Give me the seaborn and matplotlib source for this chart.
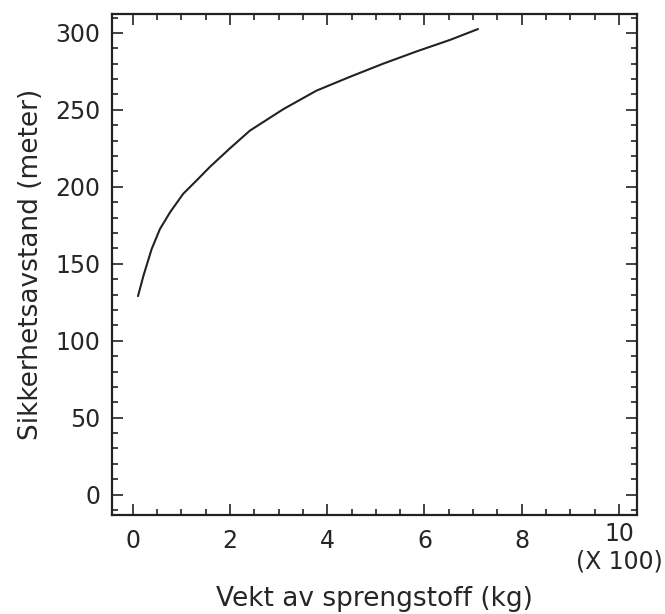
import numpy as np
import pandas as pd
import seaborn as sns
import matplotlib.pyplot as plt
import matplotlib.transforms as mtransforms
from matplotlib.ticker import MultipleLocator

# Vekt (x100 kg) og sikkerhetsavstand (m), lest av figuren
vekt = [0.11, 0.22, 0.39, 0.56, 0.77, 1.04, 1.31, 1.59, 2.00, 2.41, 3.10,
        3.78, 4.47, 5.15, 5.84, 6.53, 7.10]
avstand = [129, 142, 159.5, 172.5, 183.5, 195.5, 204, 213, 225, 236.5, 250.5,
           262.5, 271.5, 280, 288, 295.5, 302.5]
x_ticks = [0, 2, 4, 6, 8, 10]
y_ticks = [0, 50, 100, 150, 200, 250, 300]

sns.set_style('ticks')
plt.rcParams['font.family'] = ['DejaVu Sans']

df = pd.DataFrame({'vekt': vekt, 'avstand': avstand})

fig = plt.figure(figsize=(6.65, 6.14), dpi=100)
ax = fig.add_axes([0.168, 0.161, 0.79, 0.816])
sns.lineplot(data=df, x='vekt', y='avstand', color='#222222', linewidth=1.5,
             estimator=None, sort=False, ax=ax)

ax.set_xlim(-0.43, 10.37)
ax.set_ylim(-13.3, 312.2)
ax.set_xticks(x_ticks)
ax.set_yticks(y_ticks)
ax.xaxis.set_minor_locator(MultipleLocator(0.5))
ax.yaxis.set_minor_locator(MultipleLocator(10))
ax.tick_params(which='both', direction='in', top=True, right=True, color='#222222', width=1.2)
ax.tick_params(which='major', length=8, labelsize=17)
ax.tick_params(axis='x', which='major', pad=10)
ax.tick_params(axis='y', which='major', pad=8)
ax.tick_params(which='minor', length=4)
for s in ax.spines.values():
    s.set_linewidth(1.6)
    s.set_color('#222222')

# "10" sitter litt hoyere, med (X 100) rett under
fig.canvas.draw()
lbl = ax.get_xticklabels()[-1]
lbl.set_transform(lbl.get_transform() + mtransforms.ScaledTranslation(0, 5 / 72, fig.dpi_scale_trans))

ax.set_xlabel('Vekt av sprengstoff (kg)', fontsize=19, labelpad=24)
ax.set_ylabel('Sikkerhetsavstand (meter)', fontsize=19, labelpad=8)
ax.text(10, -0.092, '(X 100)', transform=ax.get_xaxis_transform(), ha='center', va='center', fontsize=17)

fig.savefig('out.png', dpi=100)
